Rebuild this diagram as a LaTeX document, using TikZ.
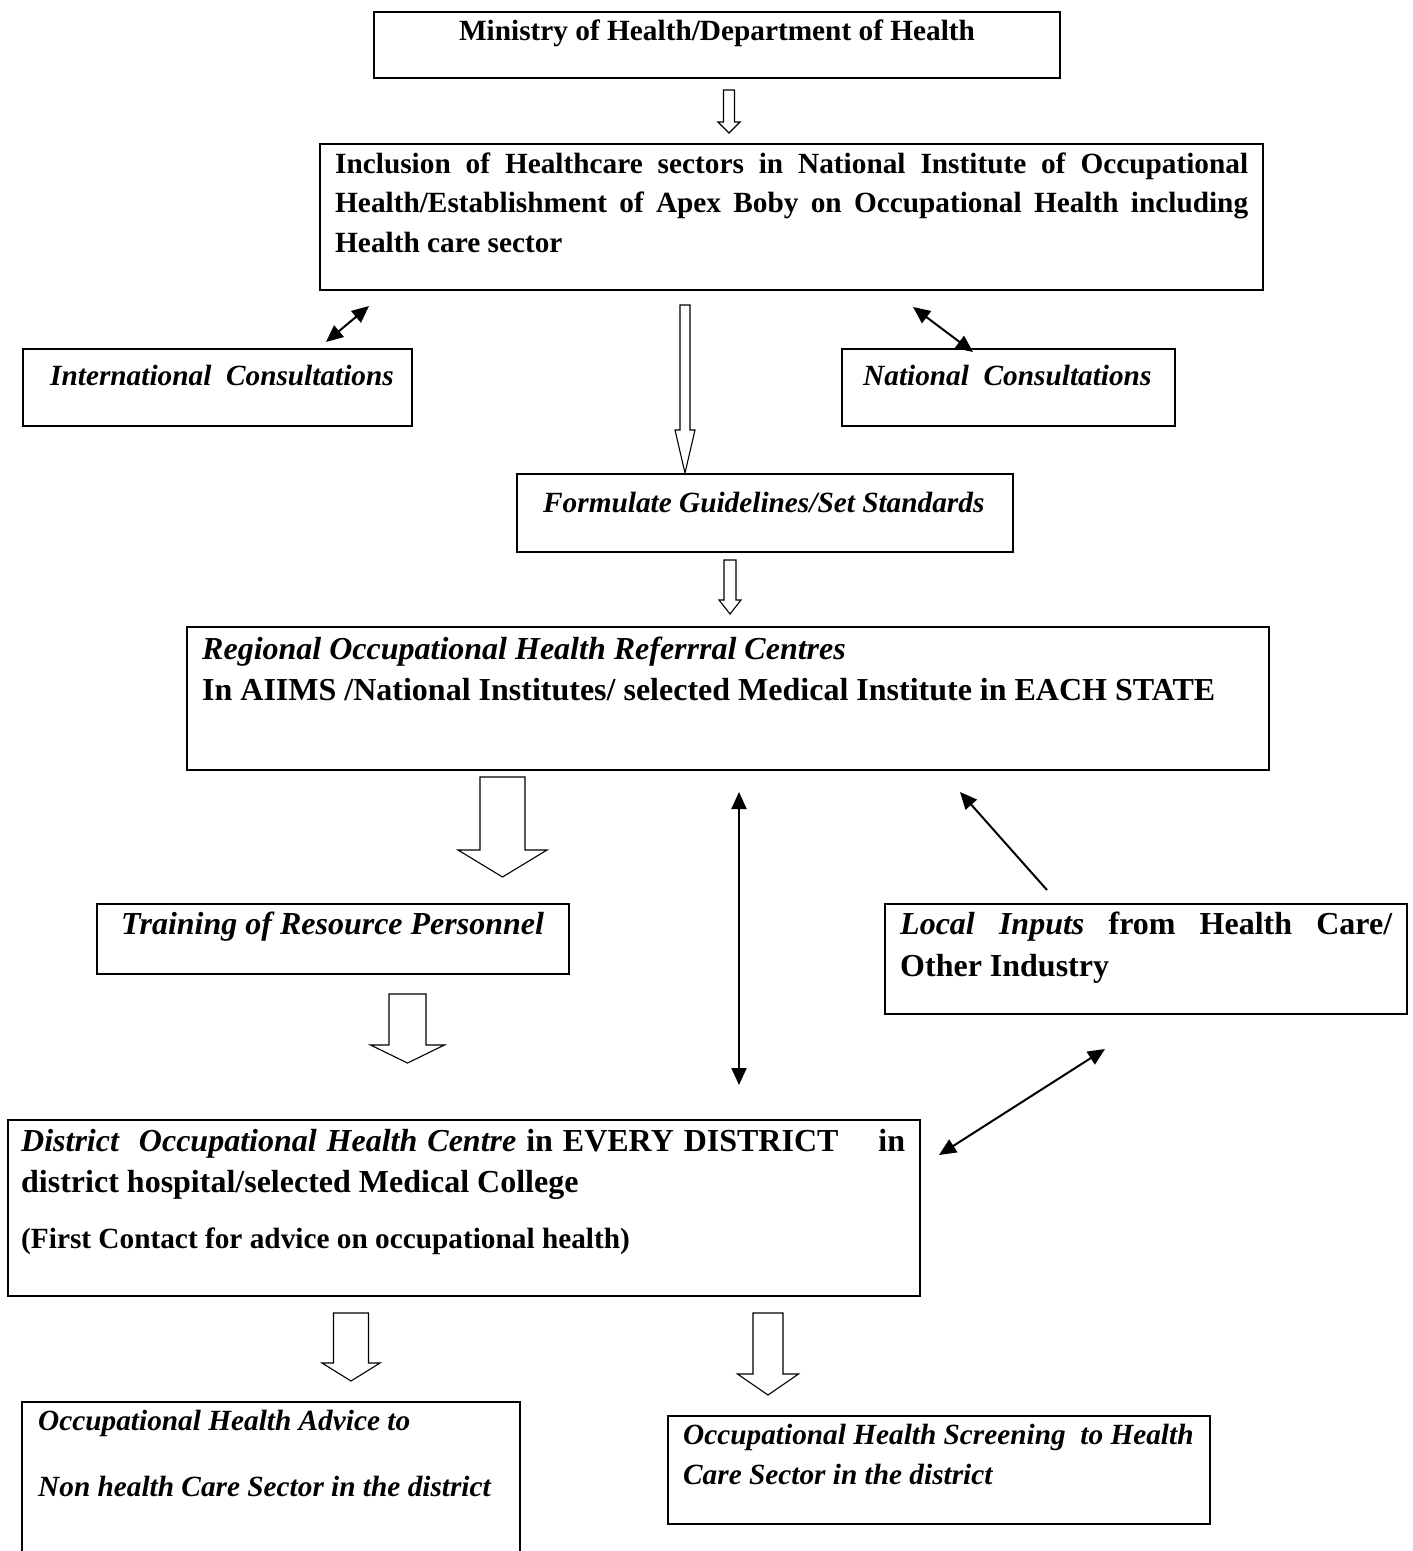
\documentclass[tikz,border=0pt]{standalone}
\usepackage{fontspec}
\setmainfont{Liberation Serif}
\usetikzlibrary{fit,arrows.meta}
\newcommand\fa{\fontsize{29.3}{35}\selectfont}
\newcommand\fb{\fontsize{32}{38}\selectfont}
\newcommand\blockarr[6]{% xc, ytop, half shaft, head base y, half head, tip y
  \draw[blk] ({#1-#3},#2) -- ({#1+#3},#2) -- ({#1+#3},#4) -- ({#1+#5},#4) -- (#1,#6)
    -- ({#1-#5},#4) -- ({#1-#3},#4) -- cycle;}
\tikzset{
  box/.style={draw, line width=1.6pt, inner sep=0pt},
  txa/.style={anchor=base west, inner sep=0pt, font=\fa\bfseries},
  txb/.style={anchor=base west, inner sep=0pt, font=\fb\bfseries},
  blk/.style={draw, line width=1.1pt, fill=white, line join=miter},
  dbl/.style={line width=2pt, {Triangle[length=17pt,width=15pt]}-{Triangle[length=17pt,width=15pt]}},
  sgl/.style={line width=2pt, -{Triangle[length=17pt,width=15pt]}}
}
\begin{document}
\begin{tikzpicture}[x=1pt,y=-1pt]
\useasboundingbox (0,0) rectangle (1413,1551);
\fill[white] (0,0) rectangle (1413,1551);

% boxes
\node[box, fit={(374,12)(1060,78)}] (min) {};
\node[box, fit={(320,144)(1263,290)}] (inc) {};
\node[box, fit={(23,349)(412,426)}] (intl) {};
\node[box, fit={(842,349)(1175,426)}] (natl) {};
\node[box, fit={(517,474)(1013,552)}] (form) {};
\node[box, fit={(187,627)(1269,770)}] (reg) {};
\node[box, fit={(97,904)(569,974)}] (train) {};
\node[box, fit={(885,904)(1407,1014)}] (local) {};
\node[box, fit={(8,1120)(920,1296)}] (dist) {};
\node[box, fit={(22,1402)(520,1580)}] (adv) {};
\node[box, fit={(668,1416)(1210,1524)}] (scr) {};

% texts
\node[txa, anchor=base] (tmin) at (717,40) {Ministry of Health/Department of Health};
\node[txa] (tinc1) at (335,173) {\makebox[913pt][s]{Inclusion of Healthcare sectors in National Institute of Occupational}};
\node[txa] (tinc2) at (335,212) {\makebox[913pt][s]{Health/Establishment of Apex Boby on Occupational Health including}};
\node[txa] (tinc3) at (335,252) {Health care sector};
\node[txa] (tintl) at (50,385) {\itshape International\ \ Consultations};
\node[txa] (tnatl) at (863,385) {\itshape National\ \ Consultations};
\node[txa] (tform) at (543,512) {\itshape Formulate Guidelines/Set Standards};
\node[txb] (treg1) at (202,659) {\itshape Regional Occupational Health Referrral Centres};
\node[txb] (treg2) at (202,700) {In AIIMS /National Institutes/ selected Medical Institute in EACH STATE};
\node[txb] (ttrain) at (121,934) {\itshape Training of Resource Personnel};
\node[txb] (tloc1) at (900,934) {\makebox[492pt][s]{\textit{Local\ \ Inputs}\ \ from\ \ Health\ \ Care/}};
\node[txb] (tloc2) at (900,976) {Other Industry};
\node[txb] (tdis1) at (21,1151) {\makebox[884pt][s]{\textit{District\ \ Occupational Health Centre} in EVERY DISTRICT\ \ \ \ in}};
\node[txb] (tdis2) at (21,1192) {district hospital/selected Medical College};
\node[txa] (tdis3) at (21,1248) {(First Contact for advice on occupational health)};
\node[txa] (tadv1) at (38,1430) {\itshape Occupational Health Advice to};
\node[txa] (tadv2) at (38,1496) {\itshape Non health Care Sector in the district};
\node[txa] (tscr1) at (683,1444) {\itshape Occupational Health Screening\ \ to Health};
\node[txa] (tscr2) at (683,1484) {\itshape Care Sector in the district};

% block arrows
\blockarr{729}{90}{5.5}{122}{11}{133}
\blockarr{685}{305}{5}{430}{10}{473}
\blockarr{730}{560}{6}{600}{11}{614}
\blockarr{502.5}{777}{22.5}{850}{44.5}{877}
\blockarr{407.5}{994}{18.5}{1045}{37}{1063}
\blockarr{351}{1313}{17.5}{1363}{29}{1381}
\blockarr{768}{1313}{15}{1374}{30.5}{1395}

% line arrows
\coordinate (ia) at (326,342);
\coordinate (ib) at (369,306);
\coordinate (na) at (913,307);
\coordinate (nb) at (973,352);
\coordinate (va) at (739,792);
\coordinate (vb) at (739,1085);
\coordinate (la) at (1047,890);
\coordinate (lb) at (960,792);
\coordinate (da) at (939,1155);
\coordinate (db) at (1105,1049);
\draw[dbl] (ia) -- (ib);
\draw[dbl] (na) -- (nb);
\draw[dbl] (va) -- (vb);
\draw[sgl] (la) -- (lb);
\draw[dbl] (da) -- (db);
\end{tikzpicture}
\end{document}
